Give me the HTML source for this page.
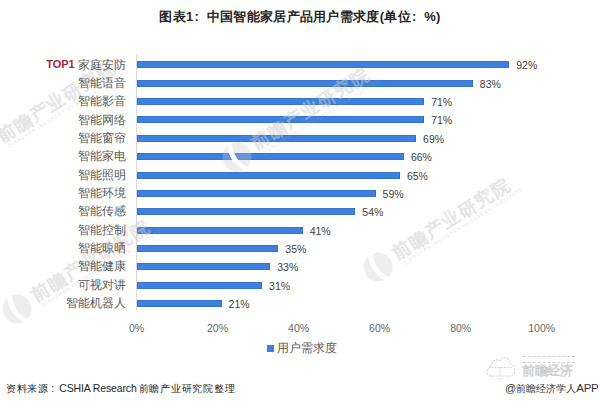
<!DOCTYPE html>
<html><head><meta charset="utf-8"><style>
*{margin:0;padding:0;box-sizing:border-box}
html,body{width:600px;height:404px;overflow:hidden;background:#fff}
body{position:relative;font-family:"Liberation Sans",sans-serif;color:#595959}
.title{position:absolute;left:0;width:600px;top:9px;text-align:center;font-weight:bold;font-size:13px;letter-spacing:0.3px;color:#262626;line-height:16px}
.c1{display:inline-block;width:13.3px;text-align:left;padding-left:1px}
.axis{position:absolute;left:136px;top:55px;width:1px;height:256px;background:#d9d9d9}
.bar{position:absolute;left:137px;height:7px;background:#3d80e0;box-shadow:inset 0 0 0 0.6px #2f69bd}
.val{position:absolute;z-index:2;font-size:10.5px;line-height:14px;color:#404040;white-space:nowrap}
.cat{position:absolute;z-index:2;left:0;width:126px;text-align:right;font-size:12px;line-height:16px;color:#595959;white-space:nowrap}
.top1{color:#a3283a;font-size:11px;font-weight:bold}
.tick{position:absolute;z-index:2;top:321px;width:60px;text-align:center;font-size:10.5px;line-height:14px;color:#666}
.leg{position:absolute;left:267px;top:345px;width:7px;height:7px;background:#3d80e0}
.legt{position:absolute;left:277px;top:340px;font-size:12px;line-height:16px;color:#595959}
.src{position:absolute;left:6px;top:380px;font-size:10px;line-height:16px;color:#262626}
.app{position:absolute;left:505px;top:380px;font-size:10.5px;line-height:16px;color:#333;white-space:nowrap}
.wm{position:absolute;z-index:1;width:0;height:0;transform-origin:0 0;transform:rotate(-32deg);white-space:nowrap}
.wml{position:absolute;left:-15px;top:-15px;width:30px;height:30px}
.wmt{position:absolute;left:20px;top:-13.5px;font-size:18px;line-height:22px;color:rgba(235,235,235,0.38);-webkit-text-stroke:0.5px rgba(160,160,160,0.2);font-weight:bold;letter-spacing:1.4px}
.wms{position:absolute;left:23px;top:7px;font-size:5px;line-height:7px;color:rgba(170,170,170,0.35);letter-spacing:0.9px}
</style></head><body>
<div class="title">图表1<span class="c1">:</span>中国智能家居产品用户需求度(单位<span class="c1">:</span>%)</div>
<div class="axis"></div>
<div class="bar" style="top:61.40px;width:372.28px"></div><div class="val" style="top:58.40px;left:516.28px">92%</div><div class="cat" style="top:56.60px"><span class="top1" style="position:relative;top:-0.5px">TOP1</span> 家庭安防</div><div class="bar" style="top:79.75px;width:335.82px"></div><div class="val" style="top:76.75px;left:479.82px">83%</div><div class="cat" style="top:74.95px">智能语音</div><div class="bar" style="top:98.10px;width:287.19px"></div><div class="val" style="top:95.10px;left:431.19px">71%</div><div class="cat" style="top:93.30px">智能影音</div><div class="bar" style="top:116.45px;width:287.19px"></div><div class="val" style="top:113.45px;left:431.19px">71%</div><div class="cat" style="top:111.65px">智能网络</div><div class="bar" style="top:134.80px;width:279.09px"></div><div class="val" style="top:131.80px;left:423.09px">69%</div><div class="cat" style="top:130.00px">智能窗帘</div><div class="bar" style="top:153.15px;width:266.93px"></div><div class="val" style="top:150.15px;left:410.93px">66%</div><div class="cat" style="top:148.35px">智能家电</div><div class="bar" style="top:171.50px;width:262.88px"></div><div class="val" style="top:168.50px;left:406.88px">65%</div><div class="cat" style="top:166.70px">智能照明</div><div class="bar" style="top:189.85px;width:238.57px"></div><div class="val" style="top:186.85px;left:382.57px">59%</div><div class="cat" style="top:185.05px">智能环境</div><div class="bar" style="top:208.20px;width:218.31px"></div><div class="val" style="top:205.20px;left:362.31px">54%</div><div class="cat" style="top:203.40px">智能传感</div><div class="bar" style="top:226.55px;width:165.63px"></div><div class="val" style="top:223.55px;left:309.63px">41%</div><div class="cat" style="top:221.75px">智能控制</div><div class="bar" style="top:244.90px;width:141.32px"></div><div class="val" style="top:241.90px;left:285.32px">35%</div><div class="cat" style="top:240.10px">智能晾晒</div><div class="bar" style="top:263.25px;width:133.22px"></div><div class="val" style="top:260.25px;left:277.22px">33%</div><div class="cat" style="top:258.45px">智能健康</div><div class="bar" style="top:281.60px;width:125.11px"></div><div class="val" style="top:278.60px;left:269.11px">31%</div><div class="cat" style="top:276.80px">可视对讲</div><div class="bar" style="top:299.95px;width:84.59px"></div><div class="val" style="top:296.95px;left:228.59px">21%</div><div class="cat" style="top:295.15px">智能机器人</div>
<div class="tick" style="left:106.50px">0%</div><div class="tick" style="left:187.54px">20%</div><div class="tick" style="left:268.58px">40%</div><div class="tick" style="left:349.62px">60%</div><div class="tick" style="left:430.66px">80%</div><div class="tick" style="left:511.70px">100%</div>
<div class="leg"></div><div class="legt">用户需求度</div>
<div class="src"><span style="letter-spacing:0.7px">资料来源</span><span style="display:inline-block;width:11px;padding-left:2.5px">:</span><span style="font-size:10.5px;letter-spacing:-0.15px;margin-left:-0.5px">CSHIA Research</span><span style="letter-spacing:0.75px;margin-left:2px">前瞻产业研究院整理</span></div>
<div class="app"><span style="font-size:11px">@</span><span style="font-size:9.8px">前瞻经济学人</span><span style="font-size:11.5px;letter-spacing:-0.2px">APP</span></div>
<svg class="cloud" width="34" height="30" viewBox="0 0 40 30" preserveAspectRatio="none" style="position:absolute;left:484px;top:354px">
<path d="M8 22 C2 22 2 14 8 13 C8 7 14 4 19 7 C22 2 31 3 31 10 C37 10 38 20 32 22 Z" fill="none" stroke="#c8c8c8" stroke-width="1" stroke-dasharray="2 1.5"/>
<path d="M6 13.5 H34" stroke="#d0d0d0" stroke-width="1" stroke-dasharray="2 1.5"/>
<path d="M19 13 V25 M16 24 L19 27 L22 24" fill="none" stroke="#d0d0d0" stroke-width="1" stroke-dasharray="2 1.5"/>
</svg>
<div style="position:absolute;left:523px;top:356px;width:52px;height:7px;border-top:1px dashed #d0d0d0;border-bottom:1px dashed #d0d0d0"></div>
<div style="position:absolute;left:522px;top:363px;font-size:13px;line-height:15px;color:#fafafa;-webkit-text-stroke:0.7px #cfcfcf;letter-spacing:-0.5px;white-space:nowrap">前瞻经济</div>
<div class="wm" style="left:-17px;top:150px"><svg class="wml" width="30" height="30" viewBox="-15 -15 30 30"><circle r="14.5" fill="rgba(200,200,200,0.3)"/><path d="M-2 -15 L3 -14 C-2 -6 -2 6 4 15 L-1 15 C-7 6 -7 -6 -2 -15Z" fill="#fff"/></svg><div class="wmt">前瞻产业研究院</div><div class="wms">QIANZHAN INDUSTRY RESEARCH INSTITUTE</div></div><div class="wm" style="left:237px;top:157px"><svg class="wml" width="30" height="30" viewBox="-15 -15 30 30"><circle r="14.5" fill="rgba(200,200,200,0.3)"/><path d="M-2 -15 L3 -14 C-2 -6 -2 6 4 15 L-1 15 C-7 6 -7 -6 -2 -15Z" fill="#fff"/></svg><div class="wmt">前瞻产业研究院</div><div class="wms">QIANZHAN INDUSTRY RESEARCH INSTITUTE</div></div><div class="wm" style="left:17px;top:309px"><svg class="wml" width="30" height="30" viewBox="-15 -15 30 30"><circle r="14.5" fill="rgba(200,200,200,0.3)"/><path d="M-2 -15 L3 -14 C-2 -6 -2 6 4 15 L-1 15 C-7 6 -7 -6 -2 -15Z" fill="#fff"/></svg><div class="wmt">前瞻产业研究院</div><div class="wms">QIANZHAN INDUSTRY RESEARCH INSTITUTE</div></div><div class="wm" style="left:378px;top:267px"><svg class="wml" width="30" height="30" viewBox="-15 -15 30 30"><circle r="14.5" fill="rgba(200,200,200,0.3)"/><path d="M-2 -15 L3 -14 C-2 -6 -2 6 4 15 L-1 15 C-7 6 -7 -6 -2 -15Z" fill="#fff"/></svg><div class="wmt">前瞻产业研究院</div><div class="wms">QIANZHAN INDUSTRY RESEARCH INSTITUTE</div></div>
</body></html>
